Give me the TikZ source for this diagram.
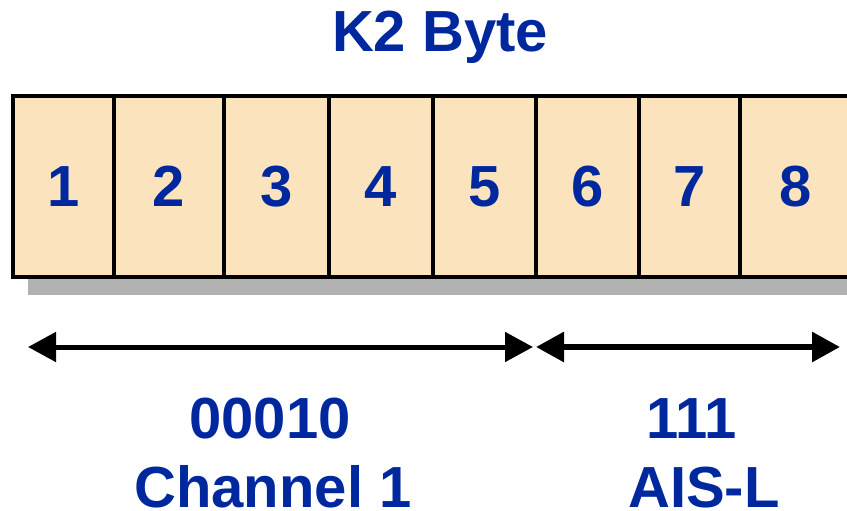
\documentclass[tikz,border=0pt]{standalone}
\usepackage{fontspec}
\setmainfont{Liberation Sans}
\usetikzlibrary{arrows.meta}
\definecolor{bitblue}{RGB}{0,40,158}
\definecolor{bitfill}{RGB}{251,227,189}
\definecolor{shadowgray}{RGB}{178,178,178}

\begin{document}
\begin{tikzpicture}[
    x=1pt, y=-1pt,
    bitcell/.style={draw, line width=4pt, rectangle, fill=bitfill, minimum height=181pt,
        inner sep=0pt, outer sep=0pt, font=\fontsize{58}{60}\selectfont\bfseries, text=bitblue},
    label/.style={font=\fontsize{58}{60}\selectfont\bfseries, text=bitblue, anchor=base, inner sep=0pt},
    span/.style={{Triangle[length=28pt,width=29pt]}-{Triangle[length=28pt,width=29pt]}}
]
    \useasboundingbox (0,0) rectangle (847,511);

    % Title
    \node[label] (title) at (440,52) {K2 Byte};

    % Shadow under the byte
    \fill[shadowgray] (28,279) rectangle (860,295);

    % Byte cells, bit 1 to bit 8
    \foreach \n/\l/\r in {1/13/114, 2/114/224, 3/224/329, 4/329/433,
                          5/433/536, 6/536/639, 7/639/740, 8/740/852} {
        \pgfmathsetmacro{\cellmid}{(\l+\r)/2}
        \pgfmathsetmacro{\cellwd}{\r-\l}
        \node[bitcell, minimum width=\cellwd pt] (bit\n) at (\cellmid,186.5) {\n};
    }

    % Field widths
    \coordinate (chanL) at (28,347);
    \coordinate (chanR) at (533,347);
    \coordinate (aisL) at (536,347);
    \coordinate (aisR) at (840,347);
    \draw[span, line width=5pt] (chanL) -- (chanR);
    \draw[span, line width=6pt] (aisL) -- (aisR);

    % Field values
    \node[label] (chanval) at (270,438) {00010};
    \node[label] (channame) at (273,507) {Channel 1};
    \node[label] (aisval) at (692,438) {111};
    \node[label] (aisname) at (704,507) {AIS-L};

\end{tikzpicture}
\end{document}
